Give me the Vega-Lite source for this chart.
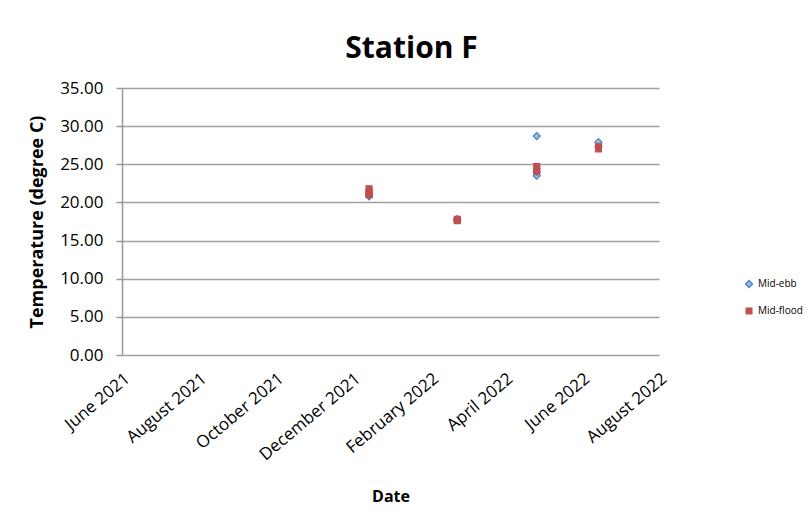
{
  "$schema": "https://vega.github.io/schema/vega-lite/v6.json",
  "autosize": {"type": "none"},
  "width": 537,
  "height": 267,
  "padding": {"left": 122, "top": 88, "right": 150, "bottom": 166},
  "background": "white",
  "title": {
    "text": "Station F",
    "anchor": "middle",
    "dx": 21,
    "offset": 15,
    "font": "Open Sans",
    "fontSize": 30,
    "fontWeight": "bold",
    "color": "black"
  },
  "data": {
    "values": [
      {"date": "2021-12-14", "temp": 20.8, "series": "Mid-ebb"},
      {"date": "2021-12-14", "temp": 21.0, "series": "Mid-ebb"},
      {"date": "2022-02-22", "temp": 17.7, "series": "Mid-ebb"},
      {"date": "2022-02-22", "temp": 17.8, "series": "Mid-ebb"},
      {"date": "2022-04-26", "temp": 28.7, "series": "Mid-ebb"},
      {"date": "2022-04-26", "temp": 23.5, "series": "Mid-ebb"},
      {"date": "2022-04-26", "temp": 24.0, "series": "Mid-ebb"},
      {"date": "2022-06-14", "temp": 27.9, "series": "Mid-ebb"},
      {"date": "2022-06-14", "temp": 27.3, "series": "Mid-ebb"},
      {"date": "2021-12-14", "temp": 21.8, "series": "Mid-flood"},
      {"date": "2021-12-14", "temp": 21.5, "series": "Mid-flood"},
      {"date": "2021-12-14", "temp": 21.2, "series": "Mid-flood"},
      {"date": "2021-12-14", "temp": 21.0, "series": "Mid-flood"},
      {"date": "2022-02-22", "temp": 17.6, "series": "Mid-flood"},
      {"date": "2022-02-22", "temp": 17.8, "series": "Mid-flood"},
      {"date": "2022-02-22", "temp": 17.7, "series": "Mid-flood"},
      {"date": "2022-04-26", "temp": 24.7, "series": "Mid-flood"},
      {"date": "2022-04-26", "temp": 24.4, "series": "Mid-flood"},
      {"date": "2022-04-26", "temp": 24.1, "series": "Mid-flood"},
      {"date": "2022-06-14", "temp": 27.3, "series": "Mid-flood"},
      {"date": "2022-06-14", "temp": 27.0, "series": "Mid-flood"}
    ]
  },
  "mark": {"type": "point", "filled": true, "opacity": 1, "strokeWidth": 1.2},
  "encoding": {
    "x": {
      "field": "date",
      "type": "temporal",
      "title": "Date",
      "scale": {
        "type": "utc",
        "domain": [
          {"year": 2021, "month": 6, "date": 1, "utc": true},
          {"year": 2022, "month": 8, "date": 1, "utc": true}
        ]
      },
      "axis": {
        "values": [
          {"year": 2021, "month": 6, "date": 1, "utc": true},
          {"year": 2021, "month": 8, "date": 1, "utc": true},
          {"year": 2021, "month": 10, "date": 1, "utc": true},
          {"year": 2021, "month": 12, "date": 1, "utc": true},
          {"year": 2022, "month": 2, "date": 1, "utc": true},
          {"year": 2022, "month": 4, "date": 1, "utc": true},
          {"year": 2022, "month": 6, "date": 1, "utc": true},
          {"year": 2022, "month": 8, "date": 1, "utc": true}
        ],
        "format": "%B %Y",
        "labelAngle": -40,
        "labelFontSize": 17,
        "labelPadding": 15,
        "labelDx": -6,
        "labelOverlap": false,
        "labelBound": false,
        "grid": false,
        "ticks": false,
        "domain": false,
        "titlePadding": 26
      }
    },
    "y": {
      "field": "temp",
      "type": "quantitative",
      "title": "Temperature (degree C)",
      "scale": {"domain": [0, 35], "nice": false},
      "axis": {
        "values": [0, 5, 10, 15, 20, 25, 30, 35],
        "format": ".2f",
        "labelFontSize": 17,
        "labelPadding": 13,
        "tickSize": 6,
        "titleFontSize": 18,
        "titlePadding": 13
      }
    },
    "fill": {
      "field": "series",
      "type": "nominal",
      "scale": {"domain": ["Mid-ebb", "Mid-flood"], "range": ["#9dbbe3", "#c0504d"]},
      "legend": {
        "title": null,
        "orient": "none",
        "legendX": 622,
        "legendY": 191,
        "labelFontSize": 10,
        "labelFont": "Open Sans",
        "labelColor": "black",
        "rowPadding": 15,
        "symbolSize": 45,
        "symbolStrokeWidth": 1.2
      }
    },
    "stroke": {
      "field": "series",
      "type": "nominal",
      "scale": {"domain": ["Mid-ebb", "Mid-flood"], "range": ["#4a7ebb", "#c0504d"]}
    },
    "shape": {
      "field": "series",
      "type": "nominal",
      "scale": {"domain": ["Mid-ebb", "Mid-flood"], "range": ["diamond", "square"]}
    },
    "size": {
      "field": "series",
      "type": "nominal",
      "scale": {"domain": ["Mid-ebb", "Mid-flood"], "range": [50, 34]}
    }
  },
  "config": {
    "font": "Open Sans",
    "view": {"stroke": null},
    "axis": {
      "labelColor": "black",
      "titleColor": "black",
      "titleFontSize": 16,
      "titleFontWeight": "bold",
      "domainColor": "#999999",
      "domainWidth": 1.5,
      "gridColor": "#a0a0a0",
      "gridWidth": 1.5,
      "tickColor": "#999999",
      "tickWidth": 1.5
    }
  }
}
